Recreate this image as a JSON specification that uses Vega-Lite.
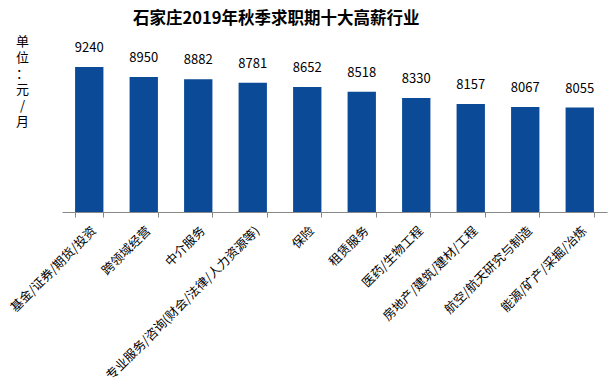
{
  "$schema": "https://vega.github.io/schema/vega-lite/v6.json",
  "width": 545,
  "height": 171,
  "autosize": {"type": "none"},
  "padding": {"left": 62, "top": 41, "right": 7, "bottom": 172},
  "background": "white",
  "config": {"view": {"stroke": null}, "font": "Noto Sans CJK SC"},
  "title": {
    "text": "石家庄2019年秋季求职期十大高薪行业",
    "font": "Noto Sans CJK SC",
    "fontSize": 16.5,
    "fontWeight": "bold",
    "color": "#000000",
    "anchor": "start",
    "frame": "group",
    "dx": 71,
    "offset": 8
  },
  "data": {
    "values": [
      {"industry": "基金/证券/期货/投资", "salary": 9240},
      {"industry": "跨领域经营", "salary": 8950},
      {"industry": "中介服务", "salary": 8882},
      {"industry": "专业服务/咨询(财会/法律/人力资源等)", "salary": 8781},
      {"industry": "保险", "salary": 8652},
      {"industry": "租赁服务", "salary": 8518},
      {"industry": "医药/生物工程", "salary": 8330},
      {"industry": "房地产/建筑/建材/工程", "salary": 8157},
      {"industry": "航空/航天研究与制造", "salary": 8067},
      {"industry": "能源/矿产/采掘/冶炼", "salary": 8055}
    ]
  },
  "encoding": {
    "x": {
      "field": "industry",
      "type": "nominal",
      "sort": null,
      "scale": {"paddingInner": 0.48, "paddingOuter": 0.24},
      "axis": {
        "title": null,
        "labelAngle": -45,
        "labelFontSize": 12.5,
        "labelColor": "#000000",
        "labelFont": "Noto Sans CJK SC",
        "labelLimit": 400,
        "domainColor": "#888888",
        "tickColor": "#888888",
        "tickSize": 5,
        "tickBand": "extent",
        "labelPadding": 7
      }
    },
    "y": {
      "field": "salary",
      "type": "quantitative",
      "scale": {"domain": [5000, 10000], "zero": false},
      "axis": {
        "title": ["单", "位", "：", "元", "/", "月"],
        "titleAngle": 0,
        "titleX": -40,
        "titleY": -6,
        "titleAlign": "center",
        "titleBaseline": "top",
        "titleLineHeight": 16,
        "titleFontSize": 13,
        "titleFontWeight": "normal",
        "titleColor": "#000000",
        "domain": false,
        "ticks": false,
        "labels": false,
        "grid": false
      }
    }
  },
  "layer": [
    {"mark": {"type": "bar", "color": "#0B4A96", "clip": true}},
    {
      "mark": {"type": "text", "dy": -12, "fontSize": 13, "color": "#000000", "baseline": "bottom"},
      "encoding": {"text": {"field": "salary", "type": "quantitative", "format": "d"}}
    }
  ]
}
